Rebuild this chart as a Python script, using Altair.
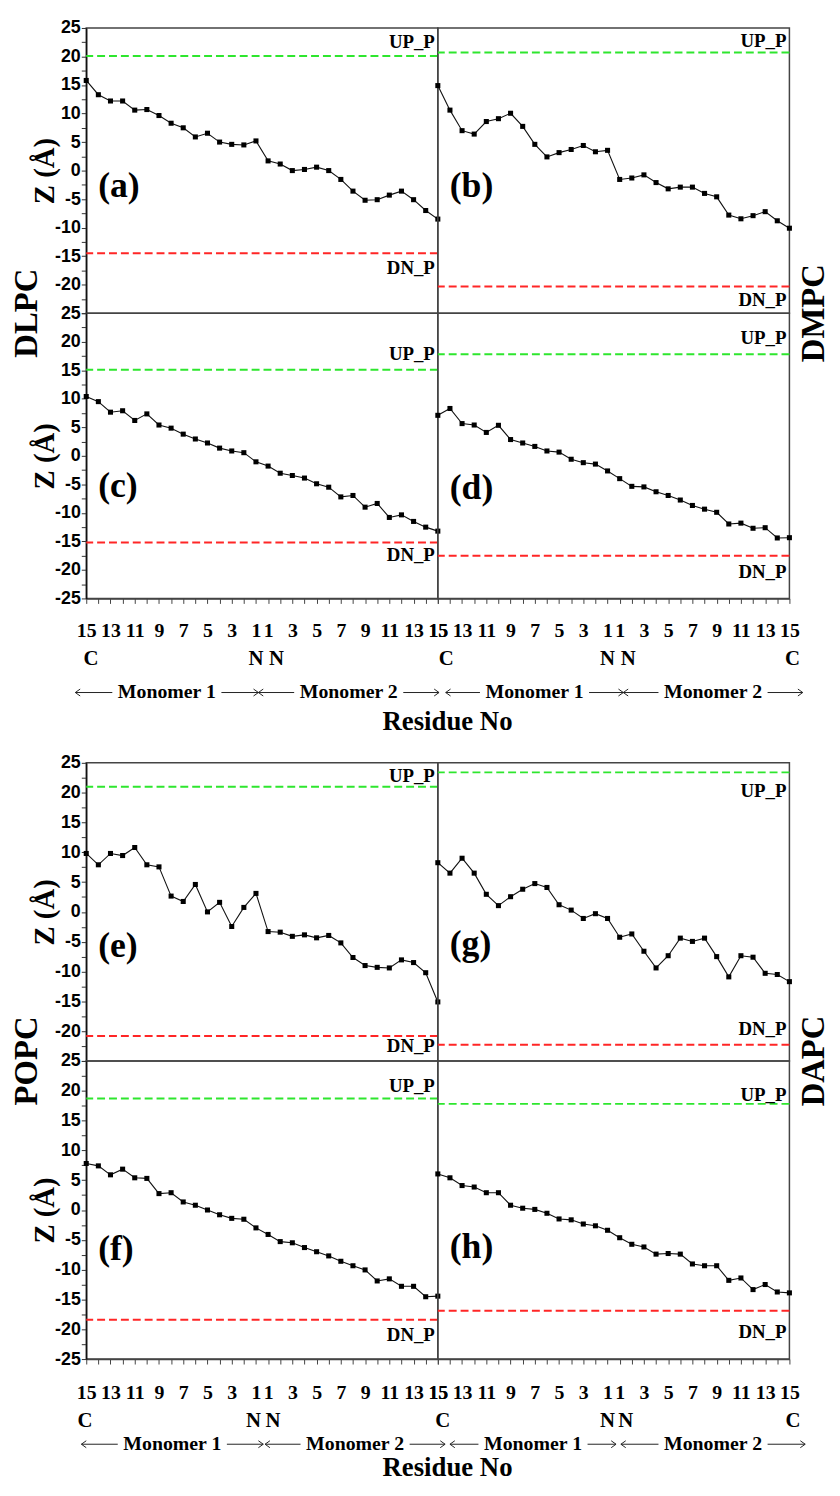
import json
import pandas as pd
import altair as alt

# ---------------- data ----------------
residue_no = list(range(15, 0, -1)) + list(range(1, 16))   # C ... N | N ... C
positions = list(range(30))
tick_text = [str(r) if r % 2 == 1 else "" for r in residue_no]

z_a = [15.8, 13.3, 12.2, 12.2, 10.6, 10.7, 9.65, 8.3, 7.5, 5.9, 6.55, 5.0, 4.6, 4.5, 5.2,
       1.7, 1.15, 0.0, 0.2, 0.6, 0.0, -1.55, -3.6, -5.2, -5.1, -4.3, -3.6, -5.1, -7.0, -8.5]
z_b = [14.9, 10.6, 7.0, 6.4, 8.6, 9.1, 10.05, 7.75, 4.6, 2.4, 3.15, 3.7, 4.4, 3.3, 3.55,
       -1.55, -1.3, -0.75, -2.1, -3.2, -2.9, -2.9, -4.0, -4.6, -7.8, -8.45, -7.9, -7.2, -8.8, -10.1]
z_c = [10.4, 9.5, 7.65, 7.9, 6.2, 7.35, 5.4, 4.85, 3.8, 2.95, 2.25, 1.35, 0.85, 0.55, -1.05,
       -1.8, -3.05, -3.45, -3.9, -4.9, -5.5, -7.2, -6.95, -9.0, -8.35, -10.8, -10.35, -11.5, -12.5, -13.2]
z_d = [7.1, 8.3, 5.65, 5.4, 4.1, 5.35, 2.85, 2.25, 1.65, 0.85, 0.65, -0.6, -1.2, -1.45, -2.65,
       -4.0, -5.35, -5.45, -6.3, -6.95, -7.75, -8.7, -9.35, -9.9, -11.95, -11.8, -12.7, -12.6, -14.4, -14.35]
z_e = [9.8, 7.9, 9.8, 9.45, 10.8, 7.9, 7.55, 2.65, 1.75, 4.6, 0.0, 1.6, -2.45, 0.75, 3.1,
       -3.3, -3.4, -4.1, -3.85, -4.35, -3.95, -5.2, -7.65, -9.0, -9.3, -9.4, -8.05, -8.5, -10.2, -15.1]
z_f = [7.8, 7.4, 5.9, 6.85, 5.4, 5.3, 2.75, 2.9, 1.35, 0.8, 0.0, -0.8, -1.4, -1.55, -3.0,
       -4.1, -5.3, -5.5, -6.3, -7.0, -7.7, -8.6, -9.35, -10.05, -11.9, -11.55, -12.8, -12.8, -14.55, -14.45]
z_g = [8.25, 6.5, 9.0, 6.5, 2.95, 1.05, 2.55, 3.8, 4.75, 4.1, 1.2, 0.3, -1.1, -0.3, -1.1,
       -4.25, -3.7, -6.6, -9.4, -7.35, -4.4, -4.95, -4.4, -7.5, -10.9, -7.35, -7.6, -10.3, -10.5, -11.7]
z_h = [6.05, 5.4, 4.1, 3.85, 2.9, 2.9, 0.8, 0.3, 0.1, -0.55, -1.5, -1.65, -2.35, -2.65, -3.4,
       -4.65, -5.75, -6.2, -7.4, -7.3, -7.4, -9.05, -9.35, -9.35, -11.8, -11.4, -13.35, -12.5, -13.75, -13.9]

panel_letters = ["(a)", "(b)", "(c)", "(d)", "(e)", "(f)", "(g)", "(h)"]
up_p = [20.1, 20.7, 15.1, 17.8, 21.0, 18.7, 23.4, 17.8]
dn_p = [-14.5, -20.3, -15.2, -17.5, -20.8, -18.4, -22.3, -16.9]
lipids = ["DLPC", "DMPC", "POPC", "DAPC"]
up_name, dn_name = "UP_P", "DN_P"
y_tick_values = [25, 22.5, 20, 17.5, 15, 12.5, 10, 7.5, 5, 2.5, 0, -2.5, -5, -7.5, -10,
                 -12.5, -15, -17.5, -20, -22.5, -25]

# annotation rows under each group (positions in residue-index units)
ends_L1 = (["C", "N", "N"], [0.4, 14.0, 15.7])
ends_R1 = (["C", "N", "N", "C"], [0.7, 14.0, 15.7, 29.25])
arrows_L1 = ([-0.9, 14.2], [14.2, 29.1], ["Monomer 1", "Monomer 2"])
arrows_R1 = ([0.65, 15.3], [15.3, 30.1], ["Monomer 1", "Monomer 2"])
ends_L2 = (["C", "N", "N"], [-0.1, 13.8, 15.4])
ends_R2 = (["C", "N", "N", "C"], [0.4, 14.0, 15.5, 29.3])
arrows_L2 = ([-0.4, 14.75], [14.6, 29.6], ["Monomer 1", "Monomer 2"])
arrows_R2 = ([1.0, 15.1], [14.7, 30.3], ["Monomer 1", "Monomer 2"])
x_title = "Residue No"

# ---------------- styling ----------------
SERIF = "Liberation Serif"
SANS = "Liberation Sans"
GREEN = "#2ee62e"
RED = "#ff2626"
W = 355
H_TOP = 288
H_BOT = 301
XSCALE = alt.Scale(domain=[0, 29], nice=False, zero=False)
YSCALE = alt.Scale(domain=[-25, 25], nice=False, zero=False)
LEFT_CHEV = "M1.4,-1L0,0L1.4,1"
RIGHT_CHEV = "M-1.4,-1L0,0L-1.4,1"


def y_axis(top_row, h):
    expr = ("datum.value % 5 == 0 && datum.value > -25 ? '' + datum.value : ''" if top_row
            else "datum.value % 5 == 0 ? '' + datum.value : ''")
    return alt.Axis(values=y_tick_values, labelExpr=expr, tickSize=5, tickColor="#333",
                    domainColor="#111", domainWidth=1.5, labelFont=SANS, labelFontSize=18,
                    labelFontWeight="bold", labelColor="black", labelPadding=1,
                    labelOverlap=False, labelFlush=False, grid=False,
                    title="Z (Å)", titleFont=SERIF, titleFontSize=29, titleFontWeight="bold",
                    titleColor="black", titleAngle=270, titleX=-33, titleY=h / 2,
                    titleAlign="center", titleBaseline="alphabetic")


def x_axis(label_pad):
    return alt.Axis(values=positions, labelExpr=json.dumps(tick_text) + "[datum.value]",
                    tickSize=5, tickColor="#444", domainColor="#444", domainWidth=1.5,
                    labelFont=SERIF, labelFontSize=20, labelFontWeight="bold", labelColor="black",
                    labelPadding=label_pad, labelBaseline="middle", labelOverlap=False,
                    labelFlush=False, labelBound=False, title=None, grid=False)


def make_panel(idx, z, h, left, bottom, top_row, letter_y, up_dy, dn_dy, side=None, label_pad=27):
    df = pd.DataFrame({"pos": positions, "z": z})
    X = alt.X("pos:Q", scale=XSCALE, axis=x_axis(label_pad) if bottom else None)
    Y = alt.Y("z:Q", scale=YSCALE, axis=y_axis(top_row, h) if left else None)
    df_up = pd.DataFrame({"z": [up_p[idx]], "label": [up_name]})
    df_dn = pd.DataFrame({"z": [dn_p[idx]], "label": [dn_name]})
    layers = [
        alt.Chart(df_up).mark_rule(color=GREEN, strokeDash=[8, 4], strokeWidth=2).encode(y=Y),
        alt.Chart(df_dn).mark_rule(color=RED, strokeDash=[8, 4], strokeWidth=2).encode(y=Y),
        alt.Chart(df).mark_line(color="#111", strokeWidth=1.1,
                                point=alt.OverlayMarkDef(shape="square", size=26, color="black",
                                                         filled=True, opacity=1)).encode(x=X, y=Y),
        alt.Chart(df_up).mark_text(align="right", baseline="alphabetic", dx=-3, dy=up_dy, font=SERIF,
                                   fontSize=19, fontWeight="bold", color="black").encode(
            x=alt.value(W), y=Y, text="label:N"),
        alt.Chart(df_dn).mark_text(align="right", baseline="alphabetic", dx=-3, dy=dn_dy, font=SERIF,
                                   fontSize=19, fontWeight="bold", color="black").encode(
            x=alt.value(W), y=Y, text="label:N"),
        alt.Chart(pd.DataFrame({"t": [panel_letters[idx]]})).mark_text(
            align="left", baseline="middle", font=SERIF, fontSize=36, fontWeight="bold",
            color="black").encode(x=alt.value(12), y=alt.value(letter_y), text="t:N"),
    ]
    if side is not None:
        name, sx = side
        layers.append(alt.Chart(pd.DataFrame({"t": [name]})).mark_text(
            angle=270, align="center", baseline="alphabetic", font=SERIF, fontSize=33,
            fontWeight="bold", color="black").encode(x=alt.value(sx), y=alt.value(0), text="t:N"))
    return alt.layer(*layers).properties(width=W, height=h)


def make_annotation(ends, arrows, h, row_c, row_m, row_t=None):
    labels, lpos = ends
    starts, stops, names = arrows
    hw = 4.5
    mids = [(s + e) / 2 for s, e in zip(starts, stops)]
    seg_x1, seg_x2 = [], []
    for s, e, m in zip(starts, stops, mids):
        seg_x1 += [s, m + hw]
        seg_x2 += [m - hw, e]
    xs = lambda f: alt.X(f, scale=XSCALE, axis=None)
    layers = [
        alt.Chart(pd.DataFrame({"pos": lpos, "t": labels})).mark_text(
            align="center", baseline="middle", font=SERIF, fontSize=21, fontWeight="bold",
            color="black").encode(x=xs("pos:Q"), y=alt.value(row_c), text="t:N"),
        alt.Chart(pd.DataFrame({"x1": seg_x1, "x2": seg_x2})).mark_rule(
            color="#222", strokeWidth=1).encode(x=xs("x1:Q"), x2="x2:Q", y=alt.value(row_m)),
        alt.Chart(pd.DataFrame({"pos": starts})).mark_point(
            shape=LEFT_CHEV, filled=False, size=49, color="#222", strokeWidth=1, opacity=1).encode(
            x=xs("pos:Q"), y=alt.value(row_m)),
        alt.Chart(pd.DataFrame({"pos": stops})).mark_point(
            shape=RIGHT_CHEV, filled=False, size=49, color="#222", strokeWidth=1, opacity=1).encode(
            x=xs("pos:Q"), y=alt.value(row_m)),
        alt.Chart(pd.DataFrame({"pos": mids, "t": names})).mark_text(
            align="center", baseline="middle", font=SERIF, fontSize=20, fontWeight="bold",
            color="black").encode(x=xs("pos:Q"), y=alt.value(row_m), text="t:N"),
    ]
    if row_t is not None:
        layers.append(alt.Chart(pd.DataFrame({"pos": [0.8], "t": [x_title]})).mark_text(
            align="center", baseline="middle", font=SERIF, fontSize=27, fontWeight="bold",
            color="black").encode(x=xs("pos:Q"), y=alt.value(row_t), text="t:N"))
    return alt.layer(*layers).properties(width=W, height=h,
                                         view=alt.ViewBackground(stroke="transparent"))


pa = make_panel(0, z_a, H_TOP, True, False, True, 160, -8, 21)
pb = make_panel(1, z_b, H_TOP, False, False, True, 160, -6, 20)
pc = make_panel(2, z_c, H_TOP, True, True, False, 175, -10, 19, side=(lipids[0], -50))
pd_ = make_panel(3, z_d, H_TOP, False, True, False, 177, -10, 23, side=(lipids[1], W + 35))
pe = make_panel(4, z_e, H_BOT, True, False, True, 185, -5, 16)
pg = make_panel(6, z_g, H_BOT, False, False, True, 183, 25, -10)
pf = make_panel(5, z_f, H_BOT, True, True, False, 190, -7, 21, side=(lipids[2], -50), label_pad=29)
ph = make_panel(7, z_h, H_BOT, False, True, False, 188, -3, 27, side=(lipids[3], W + 35), label_pad=29)

annL1 = make_annotation(ends_L1, arrows_L1, 166, 61, 95)
annR1 = make_annotation(ends_R1, arrows_R1, 166, 61, 95, 125)
annL2 = make_annotation(ends_L2, arrows_L2, 108, 63, 86)
annR2 = make_annotation(ends_R2, arrows_R2, 108, 63, 86, 110)

chart = alt.concat(
    pa, pb, pc, pd_, annL1, annR1, pe, pg, pf, ph, annL2, annR2,
    columns=2, spacing=0, bounds="flush",
    padding={"left": 2, "top": 3, "right": 0, "bottom": -4},
).configure_view(stroke="#444", strokeWidth=1.5).configure_axis(grid=False)

chart.save("out.html", embed_options={"renderer": "svg", "actions": False})
